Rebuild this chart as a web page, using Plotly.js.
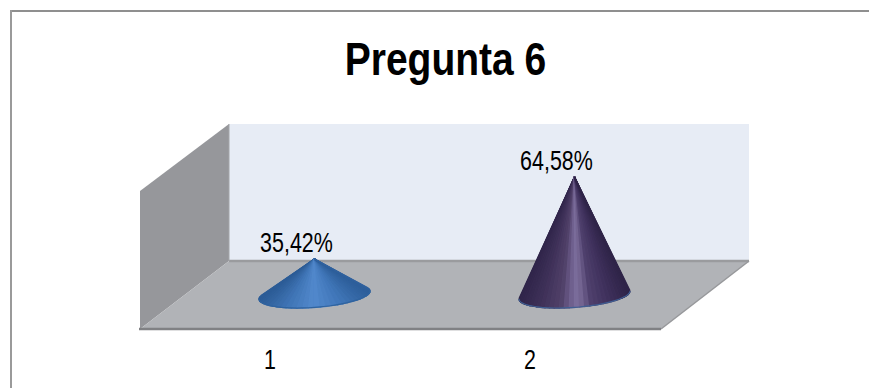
<!DOCTYPE html>
<html>
<head>
<meta charset="utf-8">
<script src="https://cdn.plot.ly/plotly-3.0.1.min.js"></script>
<style>html,body{margin:0;padding:0;background:#fff;overflow:hidden}</style>
</head>
<body>
<div id="chart" style="width:869px;height:388px"></div>
<script>
// Survey results for question 6
const chartTitle = 'Pregunta 6';
const categories = [1, 2];
const percentages = [35.42, 64.58];

// Shading of each cone, dark at the silhouette and bright along the centre
const coneShades = [
  [[0, '#2c5c96'], [0.25, '#3f74b5'], [0.5, '#5289cd'], [0.75, '#4076b8'], [1, '#2e5f9b']],
  [[0, '#30254a'], [0.2, '#3f3159'], [0.38, '#514169'], [0.46, '#6a5b89'], [0.52, '#7b6d9b'], [0.58, '#71628f'], [0.66, '#4f406d'], [0.82, '#3f315c'], [1, '#2f2448']]
];
const baseEdge = ['#2f639f', '#3f5e92'];

const W = 869, H = 388;
const plot = {left: 140, right: 749, top: 124, bottom: 329};
const font = '"Liberation Sans",Arial,sans-serif';
const titleSqueeze = 0.83, labelSqueeze = 0.795;

// Axis ranges: one category is 260px wide, one percentage point 2.812px tall
const pxPerCat = 260, pxPerPct = 2.812;
const xRange = [0.5, 0.5 + (plot.right - plot.left) / pxPerCat];
const yRange = [10.53, 10.53 + (plot.bottom - plot.top) / pxPerPct];

// Depth of the floor: cones stand back from the front edge of the plot
const coneShiftX = 44.5 / pxPerCat;
const baseLevel = 22.62;
const majorX = 55.5 / pxPerCat, majorY = 4 / pxPerPct, minorY = 12.4 / pxPerPct;
const labelShiftX = -18 / pxPerCat;

function hexToRgb(h) {
  return [1, 3, 5].map(i => parseInt(h.substr(i, 2), 16));
}
function shadeAt(stops, s) {
  s = Math.min(1, Math.max(0, s));
  for (let i = 1; i < stops.length; i++) {
    if (s <= stops[i][0]) {
      const f = (s - stops[i - 1][0]) / (stops[i][0] - stops[i - 1][0]);
      const a = hexToRgb(stops[i - 1][1]), b = hexToRgb(stops[i][1]);
      return 'rgb(' + a.map((v, k) => Math.round(v + (b[k] - v) * f)).join(',') + ')';
    }
  }
  return stops[stops.length - 1][1];
}

const traces = [];
categories.forEach((cat, idx) => {
  const cx = cat + coneShiftX, value = percentages[idx];
  // Point on the tilted elliptical base, right end at t = 0
  const rim = t => [cx + majorX * Math.cos(t), baseLevel + majorY * Math.cos(t) - minorY * Math.sin(t)];
  // Silhouette angles: where lines from the apex touch the base
  const d = (value - baseLevel) / minorY;
  const spread = Math.acos(1 / Math.max(d, 1.0001));
  const tStart = Math.PI + (Math.PI / 2 - spread), tEnd = -(Math.PI / 2 - spread);
  const N = 36;
  const arcX = [], arcY = [];
  for (let i = 0; i <= N; i++) {
    const p = rim(tStart + (tEnd - tStart) * i / N);
    arcX.push(p[0]); arcY.push(p[1]);
  }
  for (let i = 0; i < N; i++) {
    const tm = tStart + (tEnd - tStart) * (i + 0.5) / N;
    const col = shadeAt(coneShades[idx], (Math.cos(tm) + 1) / 2);
    traces.push({
      type: 'scatter', mode: 'lines', fill: 'toself', fillcolor: col,
      x: [cx, arcX[i], arcX[i + 1], cx], y: [value, arcY[i], arcY[i + 1], value],
      line: {color: col, width: 1.4}, hoverinfo: 'skip', showlegend: false
    });
  }
  const from = Math.round(N * (tStart - Math.PI) / (tStart - tEnd));
  traces.push({
    type: 'scatter', mode: 'lines',
    x: arcX.slice(from, N - from + 1), y: arcY.slice(from, N - from + 1),
    line: {color: baseEdge[idx], width: 1.2, shape: 'spline'}, hoverinfo: 'skip', showlegend: false
  });
});

// Percentage labels above the apexes
traces.push({
  type: 'scatter', mode: 'text',
  x: categories.map(c => c + coneShiftX + labelShiftX),
  y: percentages,
  text: percentages.map(v => v.toFixed(2).replace('.', ',') + '%'),
  textposition: 'top center',
  textfont: {family: font, size: 27, color: '#000'},
  cliponaxis: false, hoverinfo: 'skip', showlegend: false
});

// Frame helpers in plot fractions
const fx = px => (px - plot.left) / (plot.right - plot.left);
const fy = py => (plot.bottom - py) / (plot.bottom - plot.top);
const poly = pts => 'M' + pts.map(p => fx(p[0]) + ',' + fy(p[1])).join(' L') + ' Z';
const paperShape = o => Object.assign({xref: 'paper', yref: 'paper', layer: 'below'}, o);
const seg = (a, b, color, width) => paperShape({
  type: 'line', x0: fx(a[0]), y0: fy(a[1]), x1: fx(b[0]), y1: fy(b[1]), line: {color, width}
});

const shapes = [
  // Chart area border, open towards the page edges
  seg([10.5, 11], [W, 11], '#8f8f8f', 2),
  seg([11, 10], [11, H], '#9a9a9a', 2),
  // Back wall, side wall, floor
  paperShape({type: 'path', path: poly([[229, 124], [749, 124], [749, 261], [229, 261]]), fillcolor: '#e7ecf5', line: {width: 0}}),
  paperShape({type: 'path', path: poly([[140, 191], [229, 124], [229, 261], [140, 329]]), fillcolor: '#96979b', line: {width: 0}}),
  paperShape({type: 'path', path: poly([[140, 329], [229, 261], [749, 261], [661, 329]]), fillcolor: '#b1b3b7', line: {width: 0}}),
  seg([229, 261], [749, 261], '#9a9b9e', 2.5),
  seg([661, 329], [749, 261], '#97989b', 1.5),
  seg([139, 329], [661, 329], '#808184', 2.5),
  seg([229, 124], [229, 261], '#a4a5a9', 1)
];

const layout = {
  width: W, height: H,
  margin: {l: plot.left, r: W - plot.right, t: plot.top, b: H - plot.bottom, pad: 0},
  paper_bgcolor: '#fff', plot_bgcolor: 'rgba(0,0,0,0)',
  title: {
    text: '<b>' + chartTitle + '</b>',
    font: {family: font, size: 47, color: '#000'},
    xref: 'paper', x: fx(445.5), xanchor: 'center',
    yref: 'container', y: 1 - 59 / H, yanchor: 'middle'
  },
  xaxis: {
    range: xRange, tickmode: 'array', tickvals: categories, ticktext: categories.map(String),
    ticks: 'outside', ticklen: 7, tickcolor: 'rgba(0,0,0,0)', showgrid: false, zeroline: false, showline: false,
    tickfont: {family: font, size: 27, color: '#000'}, fixedrange: true
  },
  yaxis: {range: yRange, visible: false, fixedrange: true},
  showlegend: false, hovermode: false, shapes
};

// All chart text is set in a condensed cut: squeeze each label about its own centre
function condenseText(gd) {
  const squeeze = (selector, factor) => gd.querySelectorAll(selector).forEach(el => {
    const box = el.getBBox();
    const c = box.x + box.width / 2;
    const prior = el.getAttribute('transform') || '';
    el.setAttribute('transform', prior + ' translate(' + c + ',0) scale(' + factor + ',1) translate(' + (-c) + ',0)');
  });
  squeeze('.gtitle', titleSqueeze);
  squeeze('.xtick text, .textpoint text', labelSqueeze);
}

Plotly.newPlot('chart', traces, layout, {displayModeBar: false, staticPlot: true}).then(condenseText);
</script>
</body>
</html>
